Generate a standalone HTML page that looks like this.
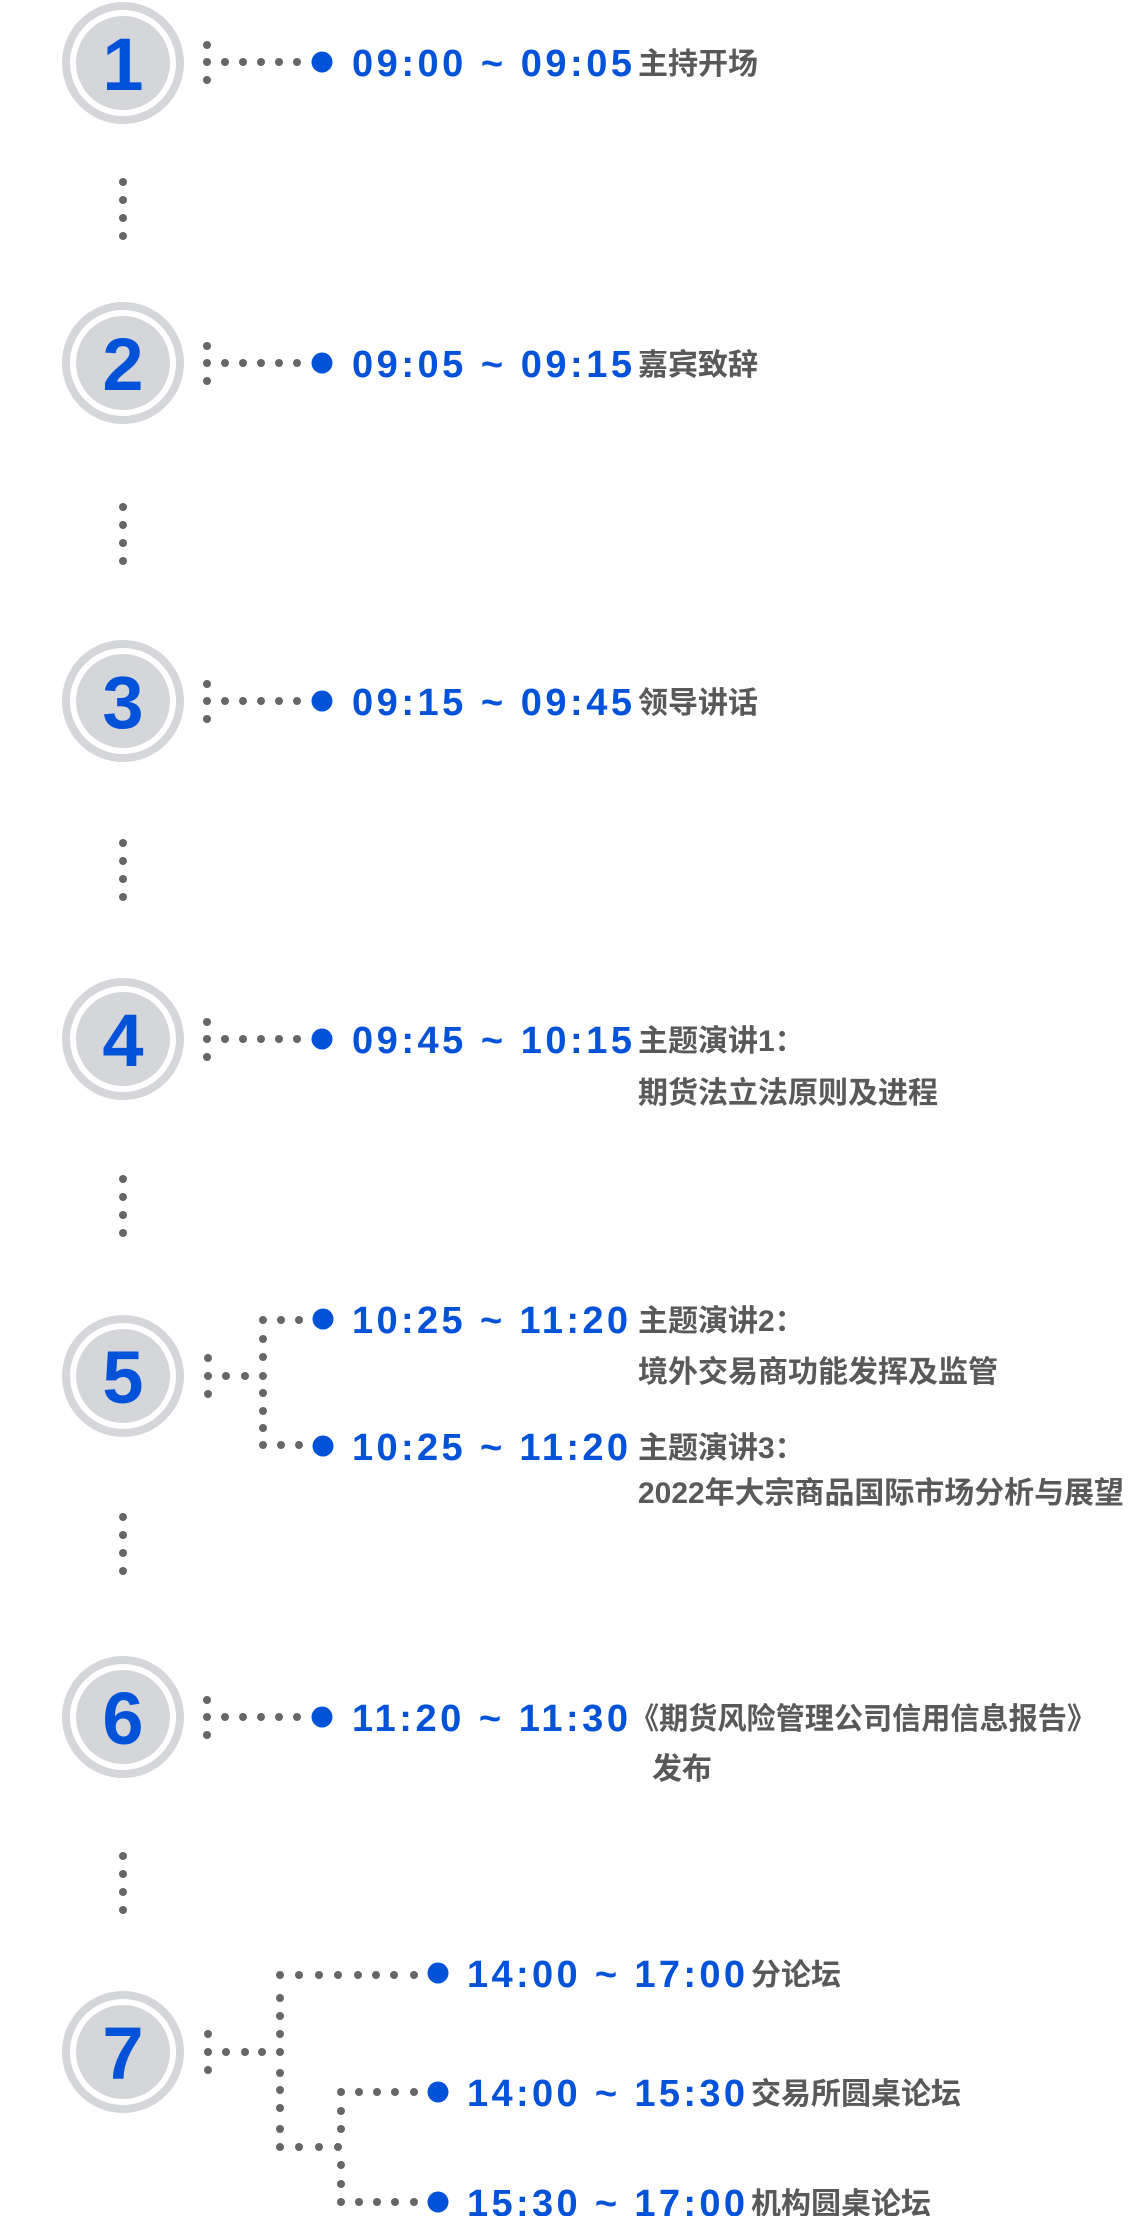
<!DOCTYPE html>
<html><head><meta charset="utf-8"><style>
html,body{margin:0;padding:0;background:#fff;}
svg{display:block;}
.t{font-family:"Liberation Sans",Arial,sans-serif;font-weight:bold;font-size:38px;fill:#0052d9;}
.c{font-family:"Liberation Sans","Noto Sans CJK SC",sans-serif;font-weight:bold;font-size:30px;fill:#595959;}
.n{font-family:"Liberation Sans",Arial,sans-serif;font-weight:bold;font-size:74px;fill:#0052d9;}
.g{fill:#666;}
.b{fill:#0052d9;}
</style></head><body>
<svg width="1139" height="2216" viewBox="0 0 1139 2216" xmlns="http://www.w3.org/2000/svg">
<defs>
<g id="circ">
<circle cx="0" cy="0" r="61" fill="#d5d6d9"/>
<circle cx="0" cy="0" r="53" fill="#fff"/>
<circle cx="0" cy="0" r="47" fill="#d5d6d9"/>
</g>
<g id="row">
<circle class="g" cx="207" cy="-17" r="4"/><circle class="g" cx="207" cy="0" r="4"/><circle class="g" cx="207" cy="18" r="4"/>
<circle class="g" cx="225" cy="0" r="4"/><circle class="g" cx="243" cy="0" r="4"/><circle class="g" cx="261" cy="0" r="4"/><circle class="g" cx="279" cy="0" r="4"/><circle class="g" cx="297" cy="0" r="4"/>
<circle class="b" cx="322" cy="0" r="10.5"/>
</g>
<g id="vd">
<circle class="g" cx="123" cy="0" r="4"/><circle class="g" cx="123" cy="18" r="4"/><circle class="g" cx="123" cy="36" r="4"/><circle class="g" cx="123" cy="54" r="4"/>
</g>
</defs>

<use href="#circ" x="123" y="63"/><text class="n" x="123" y="90" text-anchor="middle">1</text>
<use href="#circ" x="123" y="363"/><text class="n" x="123" y="390" text-anchor="middle">2</text>
<use href="#circ" x="123" y="701"/><text class="n" x="123" y="728" text-anchor="middle">3</text>
<use href="#circ" x="123" y="1039"/><text class="n" x="123" y="1066" text-anchor="middle">4</text>
<use href="#circ" x="123" y="1376"/><text class="n" x="123" y="1403" text-anchor="middle">5</text>
<use href="#circ" x="123" y="1717"/><text class="n" x="123" y="1744" text-anchor="middle">6</text>
<use href="#circ" x="123" y="2052"/><text class="n" x="123" y="2079" text-anchor="middle">7</text>

<use href="#vd" x="0" y="182"/>
<use href="#vd" x="0" y="507"/>
<use href="#vd" x="0" y="843"/>
<use href="#vd" x="0" y="1179"/>
<use href="#vd" x="0" y="1517"/>
<use href="#vd" x="0" y="1856"/>

<use href="#row" x="0" y="62"/>
<text class="t" x="352" y="76" textLength="280" lengthAdjust="spacing">09:00 ~ 09:05</text>
<text class="c" x="638" y="74">主持开场</text>
<use href="#row" x="0" y="363"/>
<text class="t" x="352" y="377" textLength="280" lengthAdjust="spacing">09:05 ~ 09:15</text>
<text class="c" x="638" y="375">嘉宾致辞</text>
<use href="#row" x="0" y="701"/>
<text class="t" x="352" y="715" textLength="280" lengthAdjust="spacing">09:15 ~ 09:45</text>
<text class="c" x="638" y="713">领导讲话</text>
<use href="#row" x="0" y="1039"/>
<text class="t" x="352" y="1053" textLength="280" lengthAdjust="spacing">09:45 ~ 10:15</text>
<text class="c" x="638" y="1051">主题演讲1：</text>
<text class="c" x="638" y="1103">期货法立法原则及进程</text>

<circle class="g" cx="208" cy="1358" r="4"/><circle class="g" cx="208" cy="1376" r="4"/><circle class="g" cx="208" cy="1394" r="4"/>
<circle class="g" cx="226" cy="1376" r="4"/><circle class="g" cx="245" cy="1376" r="4"/>
<circle class="g" cx="263" cy="1320" r="4"/><circle class="g" cx="263" cy="1339" r="4"/><circle class="g" cx="263" cy="1357" r="4"/><circle class="g" cx="263" cy="1376" r="4"/><circle class="g" cx="263" cy="1393" r="4"/><circle class="g" cx="263" cy="1411" r="4"/><circle class="g" cx="263" cy="1428" r="4"/><circle class="g" cx="263" cy="1445" r="4"/>
<circle class="g" cx="281" cy="1320" r="4"/><circle class="g" cx="299" cy="1320" r="4"/>
<circle class="g" cx="281" cy="1445" r="4"/><circle class="g" cx="299" cy="1445" r="4"/>
<circle class="b" cx="323" cy="1319" r="10.5"/>
<circle class="b" cx="323" cy="1446" r="10.5"/>
<text class="t" x="352" y="1333" textLength="276" lengthAdjust="spacing">10:25 ~ 11:20</text>
<text class="c" x="638" y="1331">主题演讲2：</text>
<text class="c" x="638" y="1382">境外交易商功能发挥及监管</text>
<text class="t" x="352" y="1460" textLength="276" lengthAdjust="spacing">10:25 ~ 11:20</text>
<text class="c" x="638" y="1458">主题演讲3：</text>
<text class="c" x="638" y="1503" textLength="486" lengthAdjust="spacingAndGlyphs">2022年大宗商品国际市场分析与展望</text>

<use href="#row" x="0" y="1717"/>
<text class="t" x="352" y="1731" textLength="276" lengthAdjust="spacing">11:20 ~ 11:30</text>
<text class="c" x="630" y="1729" textLength="466" lengthAdjust="spacingAndGlyphs">《期货风险管理公司信用信息报告》</text>
<text class="c" x="652" y="1779">发布</text>

<circle class="g" cx="208" cy="2034" r="4"/><circle class="g" cx="208" cy="2052" r="4"/><circle class="g" cx="208" cy="2070" r="4"/>
<circle class="g" cx="226" cy="2052" r="4"/><circle class="g" cx="245" cy="2052" r="4"/><circle class="g" cx="262" cy="2052" r="4"/>
<circle class="g" cx="280" cy="1975" r="4"/><circle class="g" cx="280" cy="1998" r="4"/><circle class="g" cx="280" cy="2016" r="4"/><circle class="g" cx="280" cy="2034" r="4"/><circle class="g" cx="280" cy="2052" r="4"/><circle class="g" cx="280" cy="2073" r="4"/><circle class="g" cx="280" cy="2090" r="4"/><circle class="g" cx="280" cy="2108" r="4"/><circle class="g" cx="280" cy="2129" r="4"/><circle class="g" cx="280" cy="2147" r="4"/>
<circle class="g" cx="299" cy="1975" r="4"/><circle class="g" cx="319" cy="1975" r="4"/><circle class="g" cx="338" cy="1975" r="4"/><circle class="g" cx="358" cy="1975" r="4"/><circle class="g" cx="376" cy="1975" r="4"/><circle class="g" cx="394" cy="1975" r="4"/><circle class="g" cx="414" cy="1975" r="4"/>
<circle class="b" cx="438" cy="1973" r="10.5"/>
<circle class="g" cx="299" cy="2147" r="4"/><circle class="g" cx="319" cy="2147" r="4"/><circle class="g" cx="338" cy="2147" r="4"/>
<circle class="g" cx="341" cy="2092" r="4"/><circle class="g" cx="341" cy="2111" r="4"/><circle class="g" cx="341" cy="2129" r="4"/><circle class="g" cx="341" cy="2165" r="4"/><circle class="g" cx="341" cy="2184" r="4"/><circle class="g" cx="341" cy="2202" r="4"/>
<circle class="g" cx="359" cy="2092" r="4"/><circle class="g" cx="377" cy="2092" r="4"/><circle class="g" cx="395" cy="2092" r="4"/><circle class="g" cx="414" cy="2092" r="4"/>
<circle class="b" cx="438" cy="2092" r="10.5"/>
<circle class="g" cx="359" cy="2202" r="4"/><circle class="g" cx="377" cy="2202" r="4"/><circle class="g" cx="395" cy="2202" r="4"/><circle class="g" cx="414" cy="2202" r="4"/>
<circle class="b" cx="438" cy="2202" r="10.5"/>
<text class="t" x="467" y="1987" textLength="278" lengthAdjust="spacing">14:00 ~ 17:00</text>
<text class="c" x="751" y="1985">分论坛</text>
<text class="t" x="467" y="2106" textLength="278" lengthAdjust="spacing">14:00 ~ 15:30</text>
<text class="c" x="751" y="2104">交易所圆桌论坛</text>
<text class="t" x="467" y="2216" textLength="278" lengthAdjust="spacing">15:30 ~ 17:00</text>
<text class="c" x="751" y="2214">机构圆桌论坛</text>
</svg>
</body></html>
